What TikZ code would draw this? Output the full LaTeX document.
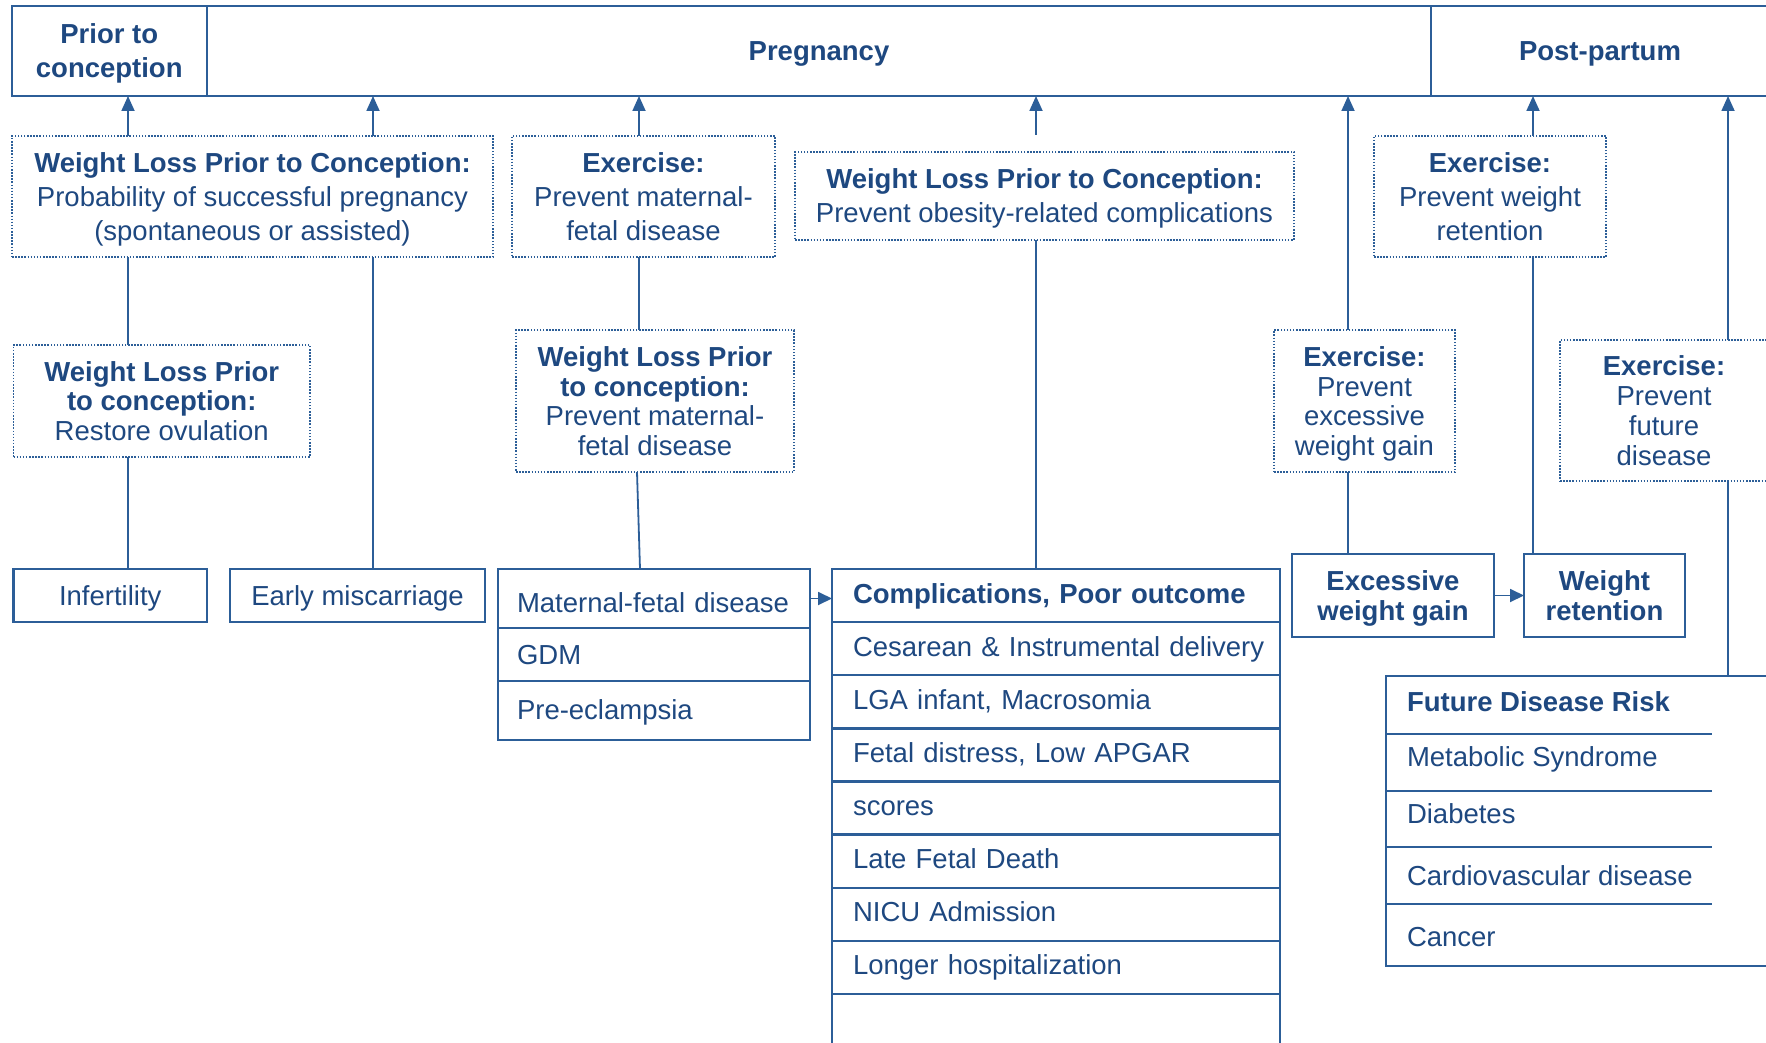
\documentclass[tikz,border=0pt]{standalone}
\usepackage{fontspec}
\setmainfont{Liberation Sans}
\usetikzlibrary{arrows.meta}
\definecolor{ink}{RGB}{30,72,128}
\definecolor{rule}{RGB}{44,94,152}
\begin{document}
\begin{tikzpicture}[x=1pt,y=-1pt,
  every node/.style={text=ink, outer sep=0pt, inner sep=0pt},
  loose/.style={font=\fontsize{27.5}{34}\selectfont},
  tight/.style={font=\fontsize{27.5}{29.7}\selectfont},
  phase/.style={draw=rule, line width=2pt, align=center, text depth=0pt, loose},
  dotbox/.style={draw=rule, line width=1.6pt, dash pattern=on 1.5pt off 1.6pt, align=center, text depth=0pt},
  plainbox/.style={draw=rule, line width=2.2pt, align=center, text depth=0pt},
  crow/.style={draw=rule, line width=2.4pt, text width=448pt, minimum height=53.125pt,
    align=left, text height=21pt, text depth=6pt, anchor=north, loose},
  mrow/.style={draw=rule, line width=2.4pt, text width=312pt, align=left,
    text depth=6pt, anchor=north, loose},
  tline/.style={draw=rule, line width=2.4pt},
  link/.style={draw=rule, line width=1.8pt},
  arr/.style={link, -{Triangle[width=13pt,length=15pt]}},
  sarr/.style={link, -{Triangle[width=13pt,length=14pt]}},
]
\useasboundingbox (0,0) rectangle (1766,1043);
\clip (0,0) rectangle (1766,1043);

% phase header
\node[phase, minimum width=195.5pt, minimum height=90pt] (hPrior) at (109.25,51) {\textbf{Prior to}\\\textbf{conception}};
\node[phase, minimum width=1224pt, minimum height=90pt] (hPreg) at (819,51) {\textbf{Pregnancy}};
\node[phase, minimum width=338pt, minimum height=90pt] (hPost) at (1600,51) {\textbf{Post-partum}};

% interventions (dotted boxes)
\node[dotbox, loose, minimum width=481pt, minimum height=121pt] (wl1) at (252.5,196.5)
  {\textbf{Weight Loss Prior to Conception:}\\Probability of successful pregnancy\\(spontaneous or assisted)};
\node[dotbox, loose, minimum width=263pt, minimum height=121pt] (ex1) at (643.5,196.5)
  {\textbf{Exercise:}\\Prevent maternal-\\fetal disease};
\node[dotbox, loose, minimum width=499pt, minimum height=88pt] (wlmid) at (1044.5,196)
  {\textbf{Weight Loss Prior to Conception:}\\Prevent obesity-related complications};
\node[dotbox, loose, minimum width=232pt, minimum height=121pt] (expp) at (1490,196.5)
  {\textbf{Exercise:}\\Prevent weight\\retention};
\node[dotbox, tight, minimum width=296.5pt, minimum height=112pt] (restore) at (161.75,401)
  {\textbf{Weight Loss Prior}\\\textbf{to conception:}\\Restore ovulation};
\node[dotbox, tight, minimum width=278pt, minimum height=142pt] (wlm) at (655,401)
  {\textbf{Weight Loss Prior}\\\textbf{to conception:}\\Prevent maternal-\\fetal disease};
\node[dotbox, tight, minimum width=181pt, minimum height=142pt] (exexc) at (1364.5,401)
  {\textbf{Exercise:}\\Prevent\\excessive\\weight gain};
\node[dotbox, tight, minimum width=208pt, minimum height=141pt] (exfut) at (1664,410.5)
  {\textbf{Exercise:}\\Prevent\\future\\disease};

% outcomes
\node[plainbox, loose, minimum width=193.5pt, minimum height=53pt] (infert) at (110.25,595.5) {Infertility};
\node[plainbox, loose, minimum width=255pt, minimum height=53pt] (misc) at (357.5,595.5) {Early miscarriage};
\node[plainbox, tight, minimum width=202pt, minimum height=83pt] (ewg) at (1393,595.5) {\textbf{Excessive}\\\textbf{weight gain}};
\node[plainbox, tight, minimum width=161pt, minimum height=83pt] (wr) at (1604.5,595.5) {\textbf{Weight}\\\textbf{retention}};

% maternal-fetal disease table
\node[mrow, minimum height=59pt, text height=33pt] (mf1) at (654,569) {\hspace*{19pt}Maternal-fetal disease};
\node[mrow, minimum height=53pt, text height=25pt] (mf2) at (mf1.south) {\hspace*{19pt}GDM};
\node[mrow, minimum height=59pt, text height=23pt] (mf3) at (mf2.south) {\hspace*{19pt}Pre-eclampsia};

% complications table
\node[crow] (cr1) at (1056,569) {\hspace*{21pt}\textbf{Complications, Poor outcome}};
\node[crow] (cr2) at (cr1.south) {\hspace*{21pt}Cesarean \& Instrumental delivery};
\node[crow] (cr3) at (cr2.south) {\hspace*{21pt}LGA infant, Macrosomia};
\node[crow] (cr4) at (cr3.south) {\hspace*{21pt}Fetal distress, Low APGAR};
\node[crow] (cr5) at (cr4.south) {\hspace*{21pt}scores};
\node[crow] (cr6) at (cr5.south) {\hspace*{21pt}Late Fetal Death};
\node[crow] (cr7) at (cr6.south) {\hspace*{21pt}NICU Admission};
\node[crow] (cr8) at (cr7.south) {\hspace*{21pt}Longer hospitalization};
\node[crow, minimum height=90pt] (cr9) at (cr8.south) {};

% future disease risk table
\node[draw=rule, line width=2.4pt, minimum width=404pt, minimum height=290pt, anchor=north west] (fdr) at (1386,676) {};
\foreach \yy in {734,791,847,904} \draw[tline] (1386,\yy) -- (1712,\yy);
\node[loose, anchor=base west] (fd1) at (1407,711) {\textbf{Future Disease Risk}};
\node[loose, anchor=base west] (fd2) at (1407,766) {Metabolic Syndrome};
\node[loose, anchor=base west] (fd3) at (1407,823) {Diabetes};
\node[loose, anchor=base west] (fd4) at (1407,885) {Cardiovascular disease};
\node[loose, anchor=base west] (fd5) at (1407,946) {Cancer};

% connector columns
\coordinate (xInf) at (128,0);
\coordinate (xMis) at (373,0);
\coordinate (xEx) at (639,0);
\coordinate (xMfA) at (637,0);
\coordinate (xMfB) at (640,0);
\coordinate (xMid) at (1036,0);
\coordinate (xExc) at (1348,0);
\coordinate (xRet) at (1533,0);
\coordinate (xFut) at (1728,0);
\coordinate (midTop) at (1036,135);

% arrows up to the phases
\draw[arr] (wl1.north -| xInf) -- (hPrior.south -| xInf);
\draw[arr] (wl1.north -| xMis) -- (hPreg.south -| xMis);
\draw[arr] (ex1.north -| xEx) -- (hPreg.south -| xEx);
\draw[arr] (midTop) -- (hPreg.south -| midTop);
\draw[arr] (exexc.north -| xExc) -- (hPreg.south -| xExc);
\draw[arr] (expp.north -| xRet) -- (hPost.south -| xRet);
\draw[arr] (exfut.north -| xFut) -- (hPost.south -| xFut);

% links down to the outcomes
\draw[link] (wl1.south -| xInf) -- (restore.north -| xInf);
\draw[link] (restore.south -| xInf) -- (infert.north -| xInf);
\draw[link] (wl1.south -| xMis) -- (misc.north -| xMis);
\draw[link] (ex1.south -| xEx) -- (wlm.north -| xEx);
\draw[link] (wlm.south -| xMfA) -- (mf1.north -| xMfB);
\draw[link] (wlmid.south -| xMid) -- (cr1.north -| xMid);
\draw[link] (exexc.south -| xExc) -- (ewg.north -| xExc);
\draw[link] (expp.south -| xRet) -- (wr.north -| xRet);
\draw[link] (exfut.south -| xFut) -- (fdr.north -| xFut);

% outcome to outcome
\draw[sarr] (mf1.east) -- (mf1.east -| cr1.west);
\draw[sarr] (ewg.east) -- (wr.west);
\end{tikzpicture}
\end{document}
